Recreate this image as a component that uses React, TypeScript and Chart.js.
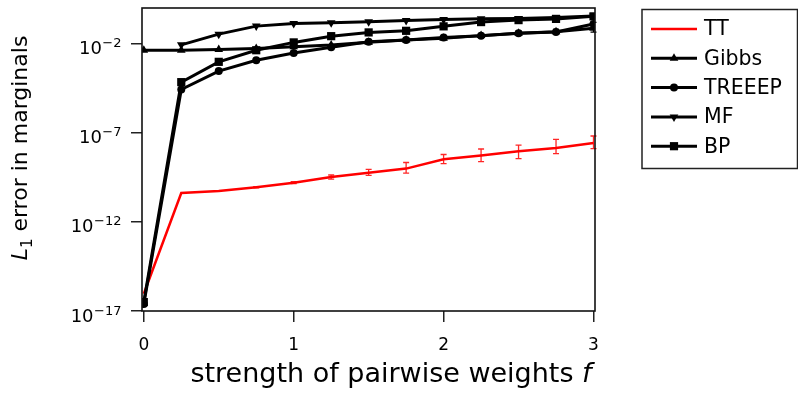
import { useEffect, useRef } from "react";
import { Chart, registerables } from "chart.js";
Chart.register(...registerables);

// ---------- data ----------
const fValues = [0, 0.25, 0.5, 0.75, 1, 1.25, 1.5, 1.75, 2, 2.25, 2.5, 2.75, 3];

const ttValues = [9.3e-17, 4.17e-11, 5.37e-11, 8.7e-11, 1.58e-10, 3.31e-10, 5.75e-10, 9.77e-10, 3.24e-9, 5.37e-9, 9.12e-9, 1.41e-8, 2.69e-8];
const ttErrLow = [null, null, 5.1e-11, 8.0e-11, 1.41e-10, 2.51e-10, 4.07e-10, 5.5e-10, 1.86e-9, 2.4e-9, 3.55e-9, 6.76e-9, 1.29e-8];
const ttErrHigh = [null, null, 5.6e-11, 9.5e-11, 1.82e-10, 4.27e-10, 8.9e-10, 2.14e-9, 6.03e-9, 1.23e-8, 2.0e-8, 4.27e-8, 6.6e-8];

const gibbsValues = [0.00427, 0.00427, 0.00468, 0.00537, 0.00661, 0.00832, 0.012, 0.0158, 0.0204, 0.0282, 0.0389, 0.0468, 0.0741];
const gibbsErrLow = [null, null, null, null, null, null, null, null, 0.0166, 0.0224, 0.0302, 0.0355, 0.0447];
const gibbsErrHigh = [null, null, null, null, null, null, null, null, 0.0251, 0.0355, 0.0501, 0.0631, 0.158];

const treeepValues = [2.5e-17, 2.69e-5, 2.88e-4, 1.17e-3, 3.02e-3, 6.31e-3, 0.0126, 0.0162, 0.0224, 0.0275, 0.0389, 0.0447, 0.126];
const mfValues = [null, 0.00857, 0.0342, 0.0962, 0.136, 0.148, 0.168, 0.201, 0.223, 0.247, 0.261, 0.289, 0.351];
const bpValues = [3.16e-17, 6.92e-5, 9.55e-4, 4.27e-3, 0.01175, 0.0263, 0.0427, 0.0525, 0.0933, 0.162, 0.209, 0.245, 0.339];

const seriesLabels = ["TT", "Gibbs", "TREEEP", "MF", "BP"];
const xTickValues = [0, 1, 2, 3];
const yTickExponents = [-17, -12, -7, -2];
const xTitleText = "strength of pairwise weights ";
const xTitleVar = "f";
const yTitleVar = "L";
const yTitleSub = "1";
const yTitleText = " error in marginals";

// ---------- helpers ----------
const FONT = "'DejaVu Sans', sans-serif";
const expText = (e: number) => (e < 0 ? "\u2212" + String(-e) : String(e));

function drawMarker(ctx: CanvasRenderingContext2D, style: string, rot: number, r: number, x: number, y: number) {
  ctx.beginPath();
  if (style === "circle") {
    ctx.arc(x, y, r, 0, Math.PI * 2);
  } else if (style === "rect") {
    const s = r * Math.SQRT1_2;
    ctx.rect(x - s, y - s, 2 * s, 2 * s);
  } else if (style === "triangle") {
    const a0 = (rot * Math.PI) / 180;
    for (let k = 0; k < 3; k++) {
      const a = a0 + (k * 2 * Math.PI) / 3;
      const px = x + Math.sin(a) * r;
      const py = y - Math.cos(a) * r;
      if (k === 0) ctx.moveTo(px, py);
      else ctx.lineTo(px, py);
    }
    ctx.closePath();
  }
  ctx.fill();
}

const errorBarPlugin = {
  id: "errorBars",
  afterDatasetsDraw(chart: any) {
    const ctx = chart.ctx;
    const xs = chart.scales.x;
    const ys = chart.scales.y;
    chart.data.datasets.forEach((ds: any) => {
      if (!ds.errLow) return;
      ctx.save();
      ctx.strokeStyle = ds.errColor || ds.borderColor;
      ctx.lineWidth = 1.3;
      fValues.forEach((f, i) => {
        const lo = ds.errLow[i];
        const hi = ds.errHigh[i];
        if (lo == null || hi == null) return;
        const px = xs.getPixelForValue(f);
        const y1 = ys.getPixelForValue(lo);
        const y2 = ys.getPixelForValue(hi);
        ctx.beginPath();
        ctx.moveTo(px, y1);
        ctx.lineTo(px, y2);
        ctx.moveTo(px - 3, y1);
        ctx.lineTo(px + 3, y1);
        ctx.moveTo(px - 3, y2);
        ctx.lineTo(px + 3, y2);
        ctx.stroke();
      });
      ctx.restore();
    });
  },
};

const decorPlugin = {
  id: "decor",
  afterDraw(chart: any) {
    const ctx: CanvasRenderingContext2D = chart.ctx;
    const a = chart.chartArea;
    const xs = chart.scales.x;
    const ys = chart.scales.y;
    ctx.save();
    // frame
    ctx.strokeStyle = "#111";
    ctx.lineWidth = 1.6;
    ctx.strokeRect(a.left, a.top, a.right - a.left, a.bottom - a.top);

    ctx.fillStyle = "#000";
    ctx.textBaseline = "alphabetic";

    // x tick labels
    ctx.textAlign = "center";
    ctx.font = `17px ${FONT}`;
    xTickValues.forEach((v) => {
      ctx.fillText(String(v), xs.getPixelForValue(v), 350);
    });

    // y tick labels: 10 with superscript exponent
    ctx.textAlign = "left";
    yTickExponents.forEach((e) => {
      const ty = ys.getPixelForValue(Math.pow(10, e));
      const base = "10";
      const ex = expText(e);
      ctx.font = `13px ${FONT}`;
      const we = ctx.measureText(ex).width;
      ctx.font = `18px ${FONT}`;
      const wb = ctx.measureText(base).width;
      const right = 121;
      const x0 = right - we - wb;
      ctx.fillText(base, x0, ty + 10.5);
      ctx.font = `13px ${FONT}`;
      ctx.fillText(ex, x0 + wb + 0.5, ty + 3.5);
    });

    // x title
    const fx1 = `27px ${FONT}`;
    const fx2 = `italic 27px ${FONT}`;
    ctx.font = fx1;
    const w1 = ctx.measureText(xTitleText).width;
    ctx.font = fx2;
    const w2 = ctx.measureText(xTitleVar).width;
    const sx = 391 - (w1 + w2) / 2;
    ctx.font = fx1;
    ctx.fillText(xTitleText, sx, 382);
    ctx.font = fx2;
    ctx.fillText(xTitleVar, sx + w1, 382);

    // y title
    ctx.save();
    ctx.translate(27, 148);
    ctx.rotate(-Math.PI / 2);
    const fy1 = `italic 22px ${FONT}`;
    const fy2 = `15px ${FONT}`;
    const fy3 = `22px ${FONT}`;
    ctx.font = fy1;
    const v1 = ctx.measureText(yTitleVar).width;
    ctx.font = fy2;
    const v2 = ctx.measureText(yTitleSub).width;
    ctx.font = fy3;
    const v3 = ctx.measureText(yTitleText).width;
    const sy = -(v1 + v2 + v3) / 2;
    ctx.font = fy1;
    ctx.fillText(yTitleVar, sy, 0);
    ctx.font = fy2;
    ctx.fillText(yTitleSub, sy + v1, 5);
    ctx.font = fy3;
    ctx.fillText(yTitleText, sy + v1 + v2, 0);
    ctx.restore();

    // legend
    const lx = 642, ly = 9.5, lw = 155.5, lh = 159;
    ctx.fillStyle = "#fff";
    ctx.fillRect(lx, ly, lw, lh);
    ctx.strokeStyle = "#222";
    ctx.lineWidth = 1.5;
    ctx.strokeRect(lx, ly, lw, lh);
    chart.data.datasets.forEach((ds: any, i: number) => {
      const y = 29 + i * 29.3;
      ctx.strokeStyle = ds.borderColor;
      ctx.lineWidth = ds.borderWidth;
      ctx.beginPath();
      ctx.moveTo(651, y);
      ctx.lineTo(697, y);
      ctx.stroke();
      if (ds.pointRadius > 0) {
        ctx.fillStyle = ds.backgroundColor;
        drawMarker(ctx, ds.pointStyle, ds.pointRotation || 0, ds.pointRadius, 674, y);
      }
      ctx.fillStyle = "#000";
      ctx.font = `20.5px ${FONT}`;
      ctx.textAlign = "left";
      ctx.textBaseline = "middle";
      ctx.fillText(seriesLabels[i], 704, y + 1);
    });
    ctx.restore();
  },
};

export default function App() {
  const ref = useRef<HTMLCanvasElement>(null);
  useEffect(() => {
    const canvas = ref.current!;
    const mk = (vals: (number | null)[]) => fValues.map((x, i) => ({ x, y: vals[i] }));
    const black = "#000000";
    const chart = new Chart(canvas, {
      type: "line",
      data: {
        datasets: [
          { label: seriesLabels[0], data: mk(ttValues), borderColor: "#ff0000", backgroundColor: "#ff0000", borderWidth: 2.5, pointRadius: 0, order: 5, errLow: ttErrLow, errHigh: ttErrHigh, errColor: "rgba(255,0,0,0.85)" } as any,
          { label: seriesLabels[1], data: mk(gibbsValues), borderColor: black, backgroundColor: black, borderWidth: 3, pointStyle: "triangle", pointRadius: 5, pointBorderWidth: 0, order: 4, errLow: gibbsErrLow, errHigh: gibbsErrHigh } as any,
          { label: seriesLabels[2], data: mk(treeepValues), borderColor: black, backgroundColor: black, borderWidth: 3, pointStyle: "circle", pointRadius: 4, pointBorderWidth: 0, order: 3 } as any,
          { label: seriesLabels[3], data: mk(mfValues), borderColor: black, backgroundColor: black, borderWidth: 3, pointStyle: "triangle", pointRotation: 180, pointRadius: 5, pointBorderWidth: 0, order: 2 } as any,
          { label: seriesLabels[4], data: mk(bpValues), borderColor: black, backgroundColor: black, borderWidth: 3, pointStyle: "rect", pointRadius: 5.8, pointBorderWidth: 0, order: 1 } as any,
        ],
      },
      options: {
        responsive: false,
        animation: false,
        devicePixelRatio: 1,
        layout: { padding: { left: 0, top: 8, right: 203, bottom: 0 } },
        plugins: { legend: { display: false }, tooltip: { enabled: false } },
        elements: { line: { tension: 0 } },
        scales: {
          x: {
            type: "linear",
            min: -0.012,
            max: 3.01,
            afterFit: (s: any) => { s.height = 92; s.paddingLeft = 0; s.paddingRight = 0; },
            afterBuildTicks: (s: any) => { s.ticks = xTickValues.map((v) => ({ value: v })); },
            grid: { drawOnChartArea: false, drawTicks: true, tickLength: 11, color: "#222", lineWidth: 1.5 },
            border: { display: false },
            ticks: { display: false },
          },
          y: {
            type: "logarithmic",
            min: 1e-17,
            max: 1,
            afterFit: (s: any) => { s.width = 142; s.paddingTop = 0; s.paddingBottom = 0; },
            afterBuildTicks: (s: any) => { s.ticks = yTickExponents.map((e) => ({ value: Math.pow(10, e) })); },
            grid: { drawOnChartArea: false, drawTicks: true, tickLength: 11, color: "#222", lineWidth: 1.5 },
            border: { display: false },
            ticks: { display: false },
          },
        },
      },
      plugins: [errorBarPlugin, decorPlugin],
    } as any);
    return () => chart.destroy();
  }, []);
  return (
    <div style={{ position: "fixed", left: 0, top: 0, width: 798, height: 403, background: "#fff" }}>
      <canvas ref={ref} width={798} height={403} style={{ display: "block" }} />
    </div>
  );
}
